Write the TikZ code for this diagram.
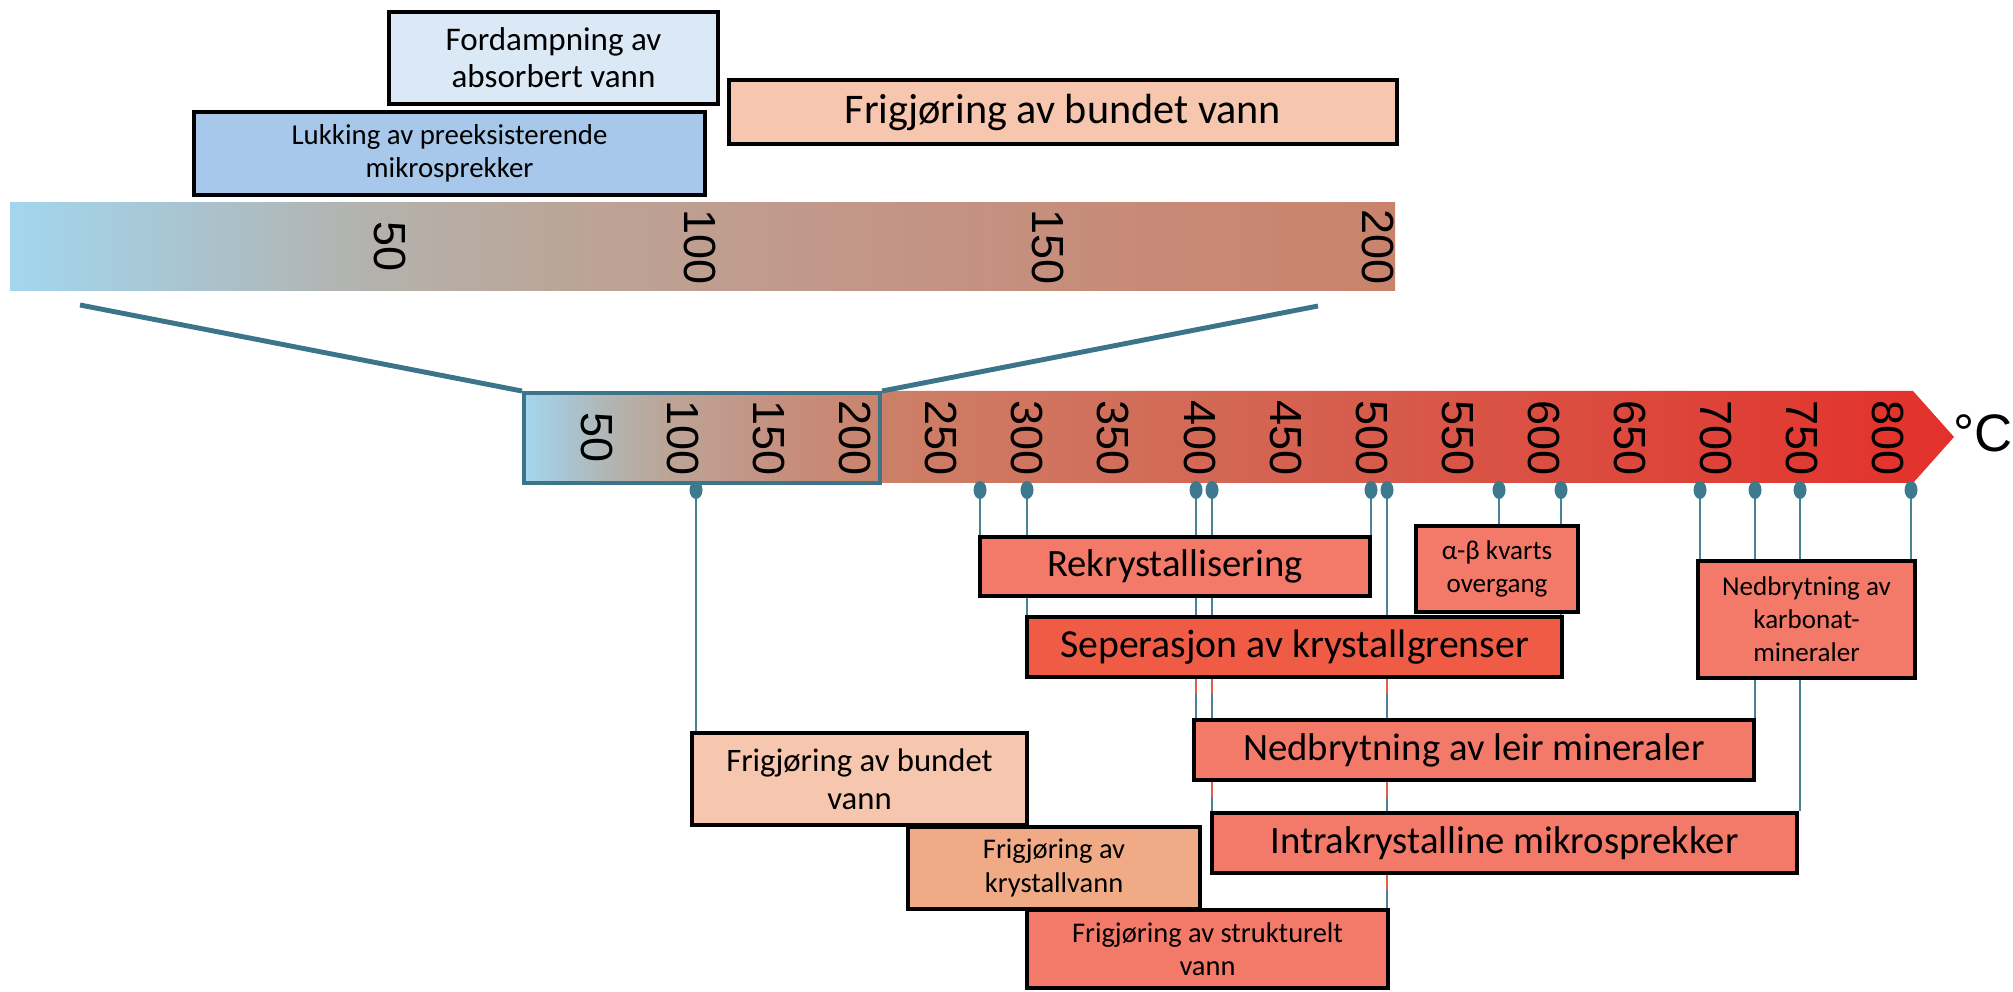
\documentclass[tikz,border=0pt]{standalone}
\usepackage{fontspec}
\setmainfont{Carlito}
\newfontfamily\numfont{Liberation Sans}
\usetikzlibrary{backgrounds}

% colours of the scale
\definecolor{zbA}{HTML}{A3D6EE}
\definecolor{zbB}{HTML}{A8C5D2}
\definecolor{zbC}{HTML}{B3B3AF}
\definecolor{zbD}{HTML}{BBA597}
\definecolor{zbE}{HTML}{C2978A}
\definecolor{zbF}{HTML}{C78B78}
\definecolor{zbG}{HTML}{C9836C}
\definecolor{barA}{HTML}{CC8068}
\definecolor{barB}{HTML}{E3302A}
% colours of the boxes and lines
\definecolor{fordampfill}{HTML}{DBE8F6}
\definecolor{lukkfill}{HTML}{A7C8EA}
\definecolor{bundetfill}{HTML}{F6C7AE}
\definecolor{krystfill}{HTML}{F0AA85}
\definecolor{salmonfill}{HTML}{F37968}
\definecolor{sepfill}{HTML}{F05B45}
\definecolor{linecol}{HTML}{4C8196}
\definecolor{pincol}{HTML}{3D7A8F}
\definecolor{zoomcol}{HTML}{3C7489}
\definecolor{redbit}{HTML}{E35D4A}

\pgfdeclarehorizontalshading{zoombar}{100bp}{color(0bp)=(zbA); color(25bp)=(zbA); color(31bp)=(zbB); color(37.5bp)=(zbC); color(45bp)=(zbD); color(55bp)=(zbE); color(65bp)=(zbF); color(75bp)=(zbG); color(100bp)=(zbG)}

\begin{document}
\begin{tikzpicture}[x=0.01cm, y=-0.01cm,
    box/.style={draw=black, line width=1pt, inner sep=2pt, align=center},
    numlabel/.style={rotate=-90, inner sep=0pt, font=\numfont\fontsize{12.8}{14}\selectfont},
    txtA/.style={font=\fontsize{12}{14}\selectfont},
    txtB/.style={font=\fontsize{11}{13}\selectfont},
    txtC/.style={font=\fontsize{9.3}{10.9}\selectfont},
    txtD/.style={font=\fontsize{8.1}{9.5}\selectfont},
    txtE/.style={font=\fontsize{7.7}{9.4}\selectfont},
    conn/.style={draw=linecol, line width=0.8pt},
    zoomline/.style={draw=zoomcol, line width=1.4pt}]
\useasboundingbox (0,0) rectangle (2013,992);

% Draw the zoomed scale at the top
\shade[shading=zoombar] (10,203) rectangle (1395,291);
\foreach \x/\t in {390/50, 700/100, 1048/150, 1378/200}
    \node[numlabel] (top\t) at (\x,247) {\t};

% Draw the upper boxes
\node[box, txtC, fill=fordampfill, minimum width=3.29cm, minimum height=0.92cm, font=\fontsize{9.4}{10.5}\selectfont] (fordamp) at (553.5,58) {Fordampning av\\absorbert vann};
\node[box, fill=lukkfill, minimum width=5.11cm, minimum height=0.83cm, font=\fontsize{8.2}{9.4}\selectfont] (lukking) at (449.5,153.5) {Lukking av preeksisterende\\mikrosprekker};
\node[box, txtA, fill=bundetfill, minimum width=6.68cm, minimum height=0.64cm] (bundettop) at (1063,112) {Frigjøring av bundet vann};

% Draw the main arrow
\shade[left color=barA, right color=barB] (878,391) -- (1913,391) -- (1954,437) -- (1913,483) -- (878,483) -- cycle;
\node[shade, shading=zoombar, draw=zoomcol, line width=1.1pt, inner sep=0pt, minimum width=3.56cm, minimum height=0.9cm] (zoombox) at (702,438) {};
\foreach \v in {50,100,...,800}
    \node[numlabel] (t\v) at ({511+1.7213*\v},438) {\v};
\node[font=\numfont\fontsize{15}{15}\selectfont] (degC) at (1983,433) {°C};

% Draw the lines of the zoom
\coordinate (zl) at (80,305);
\coordinate (zr) at (1318,306);
\draw[zoomline] (zl) -- (zoombox.north west);
\draw[zoomline] (zr) -- (zoombox.north east);

% Draw the lower boxes
\node[box, txtB, fill=salmonfill, minimum width=3.90cm, minimum height=0.59cm] (rekry) at (1175,566.5) {Rekrystallisering};
\node[box, txtE, fill=salmonfill, minimum width=1.62cm, minimum height=0.86cm] (kvarts) at (1497,569) {α-β kvarts\\overgang};
\node[box, txtB, fill=sepfill, minimum width=5.35cm, minimum height=0.60cm, font=\fontsize{11.3}{13}\selectfont] (sep) at (1294.5,647) {Seperasjon av krystallgrenser};
\node[box, txtE, fill=salmonfill, minimum width=2.17cm, minimum height=1.17cm] (karbonat) at (1806.5,619.5) {Nedbrytning av\\karbonat-\\mineraler};
\node[box, txtB, fill=salmonfill, minimum width=5.60cm, minimum height=0.60cm] (leir) at (1474,750) {Nedbrytning av leir mineraler};
\node[box, txtB, fill=salmonfill, minimum width=5.85cm, minimum height=0.60cm] (intra) at (1504.5,843) {Intrakrystalline mikrosprekker};
\node[box, txtC, fill=bundetfill, minimum width=3.35cm, minimum height=0.92cm] (lowbundet) at (859.5,779) {Frigjøring av bundet\\vann};
\node[box, txtD, fill=krystfill, minimum width=2.92cm, minimum height=0.82cm] (krystall) at (1054,868) {Frigjøring av\\krystallvann};
\node[box, txtD, fill=salmonfill, minimum width=3.61cm, minimum height=0.78cm] (strukt) at (1207.5,949) {Frigjøring av strukturelt\\vann};

% Draw the connectors behind the boxes
\begin{pgfonlayer}{background}
\foreach \x/\b in {696/lowbundet, 980/rekry, 1027/sep, 1196/leir, 1212/intra, 1371/rekry, 1387/strukt, 1499/kvarts, 1561/sep, 1700/karbonat, 1755/leir, 1800/intra, 1911/karbonat} {
    \coordinate (pin\x) at (\x,490);
    \draw[conn] (pin\x) -- (pin\x |- \b.north);
}
\foreach \x/\b in {1196/sep, 1212/sep, 1212/leir, 1387/sep, 1387/leir, 1387/intra}
    \draw[draw=redbit, line width=0.8pt] (pin\x |- \b.south) -- ++(0,15);
\end{pgfonlayer}

% Draw the pins on the arrow
\foreach \x in {696,980,1027,1196,1212,1371,1387,1499,1561,1700,1755,1800,1911}
    \fill[pincol] (pin\x) ellipse (6.5 and 9);
\end{tikzpicture}
\end{document}
